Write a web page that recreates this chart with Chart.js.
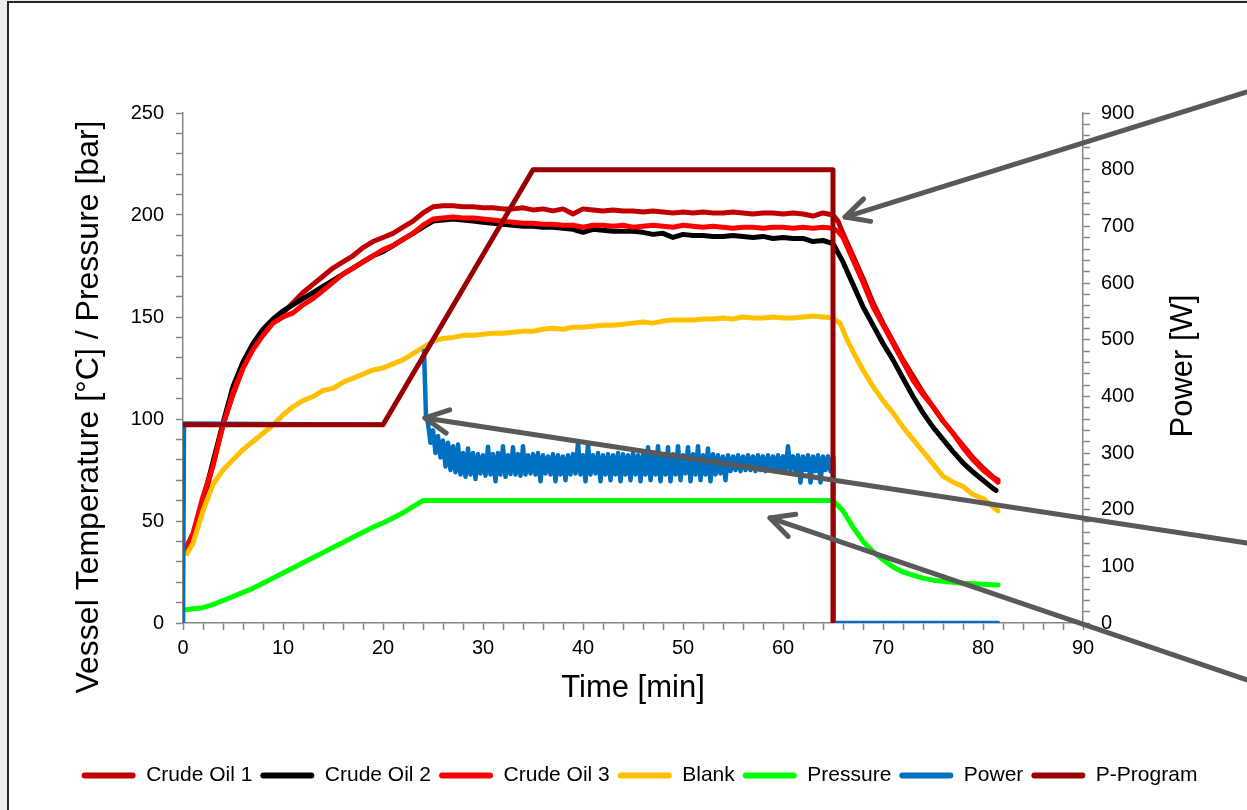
<!DOCTYPE html>
<html>
<head>
<meta charset="utf-8">
<script src="https://cdn.jsdelivr.net/npm/chart.js@4.4.0/dist/chart.umd.min.js"></script>
<style>
  html, body { margin: 0; padding: 0; overflow: hidden; background: #ececec; }
  #frame { position: absolute; left: 7px; top: 1px; width: 1300px; height: 900px; background: #fff;
           border-left: 2px solid #262626; border-top: 2px solid #262626; }
  #chart { position: absolute; left: 0; top: 0; }
</style>
</head>
<body>
<div id="frame"></div>
<canvas id="chart" width="1247" height="810"></canvas>
<script>
// [time min, value]
const crudeOil1 = [
    [0.3,36],[1,42],[2,58],[3,78],[4,97],[5,112],[6,125],[7,135],[8,142],[9,148],[10,152],[11,157],[12,162],
    [13,166],[14,170],[15,174],[16,177],[17,180],[18,184],[19,187],[20,189],[21,191],[22,194],[23,197],[24,201],
    [25,204],[26,204.5],[27,204.5],[28,204],[29,204],[30,203.5],[31,203.5],[32,203],[33,203],[34,203.5],[35,202.5],
    [36,203],[37,202],[38,203],[39,200.5],[40,203],[41,202.5],[42,202],[43,202.5],[44,202],[45,202],[46,201.5],
    [47,202],[48,201.5],[49,201],[50,201.5],[51,201],[52,201.5],[53,201],[54,201],[55,201.5],[56,201],[57,200.5],
    [58,201],[59,201],[60,200.5],[61,201],[62,200.5],[63,199.5],[64,201],[65,200],[65.5,197],[66,191],[67,180],
    [68,169],[69,157],[70,147],[71,138],[72,129],[73,121],[74,113],[75,106],[76,99],[77,93],[78,87],[79,81],
    [80,76],[81,71.5],[81.5,70]
];
const crudeOil2 = [
    [0.3,36],[1,43],[2,60],[3,79],[4,98],[5,116],[6,128],[7,137],[8,144],[9,149],[10,153],[11,156],[12,159],
    [13,162],[14,165],[15,168],[16,171],[17,174],[18,177],[19,180],[20,182],[21,185],[22,188],[23,191],[24,194],
    [25,197],[26,197.5],[27,198],[28,197.5],[29,197],[30,196.5],[31,196],[32,195.5],[33,195],[34,194.5],[35,194.5],
    [36,194],[37,194],[38,193.5],[39,193],[40,191.5],[41,193],[42,192.5],[43,192],[44,192],[45,192],[46,191.5],
    [47,190.5],[48,191],[49,189],[50,190.5],[51,190],[52,190],[53,189.5],[54,189.5],[55,190],[56,189.5],[57,189],
    [58,189.5],[59,188.5],[60,189],[61,188.5],[62,188.5],[63,187],[64,187.5],[65,186],[66,177],[67,166],[68,155],
    [69,146],[70,137],[71,129],[72,120],[73,111],[74,103],[75,96],[76,90],[77,84],[78,78.5],[79,74],[80,70],
    [81,66],[81.3,65]
];
const crudeOil3 = [
    [0.3,37],[1,44],[2,62],[3,77],[4,97],[5,113],[6,125],[7,134],[8,141],[9,147],[10,150],[11,152],[12,156],
    [13,159],[14,163],[15,167],[16,171],[17,174],[18,177],[19,180],[20,183],[21,185],[22,188],[23,191],[24,195],
    [25,198],[26,198.5],[27,199],[28,198.5],[29,198.5],[30,198],[31,197.5],[32,197],[33,196.5],[34,196],[35,196],
    [36,195.5],[37,195.5],[38,195],[39,195],[40,194],[41,195],[42,195],[43,194.5],[44,195],[45,194],[46,194.5],
    [47,195],[48,194.5],[49,194],[50,195],[51,194.5],[52,194],[53,194.5],[54,194],[55,193.5],[56,194],[57,194],
    [58,193.5],[59,194],[60,194],[61,193.5],[62,194],[63,193.5],[64,194],[65,193.5],[65.5,192],[66,189],[67,178],
    [68,167],[69,155],[70,146],[71,137],[72,128],[73,119],[74,112],[75,106],[76,99],[77,93],[78,86],[79,80],
    [80,75],[81,71],[81.5,69]
];
const blank = [
    [0.4,34],[1,39],[2,55],[3,68],[4,75],[5,80],[6,85],[7,89],[8,93],[9,97],[10,102],[11,106],[12,109],[13,111],
    [14,114],[15,115],[16,118],[17,120],[18,122],[19,124],[20,125],[21,127],[22,129],[23,132],[24,135],[25,138],
    [26,139.5],[27,140],[28,141],[29,141],[30,141.5],[31,142],[32,142],[33,142.5],[34,143],[35,143],[36,144],
    [37,144.5],[38,144],[39,145],[40,145],[41,145.5],[42,146],[43,146],[44,146.5],[45,147],[46,147.5],[47,147],
    [48,148],[49,148.5],[50,148.5],[51,148.5],[52,149],[53,149],[54,149.5],[55,149],[56,150],[57,149.5],[58,149.5],
    [59,150],[60,149.5],[61,149.5],[62,150],[63,150.5],[64,150],[65,149.5],[65.7,147],[66.4,139],[67,133],[68,124],
    [69,116],[70,109],[71,103],[72,96],[73,90],[74,84],[75,78],[76,72],[77,69],[78,67],[79,63],[80,61],[81,57],
    [81.5,55]
];
const pressure = [
    [0.3,6.5],[1,7],[2,7.5],[3,9],[4,11],[5,13],[6,15],[7,17],[8,19.5],[9,22],[10,24.5],[11,27],[12,29.5],[13,32],
    [14,34.5],[15,37],[16,39.5],[17,42],[18,44.5],[19,47],[20,49],[21,51.5],[22,54],[23,57],[24,60],[25,60],
    [65,60],[66,55],[67,47],[68,40],[69,35],[70,31],[71,27.5],[72,25],[73,23.5],[74,22],[75,21],[76,20.5],
    [77,20],[78,19.5],[80,19],[81.5,18.6]
];

// power [W], right axis
const powerStart = [[0,0],[0.1,352],[19.9,350]];
const powerGapAt = 22;
const powerPeak = [[24.1,480],[24.3,365]];
const rippleStart = 24.5;   // min
const rippleStep = 0.25;    // min between readings
const powerRipple = [
    352,318,340,300,330,292,322,276,318,270,312,266,315,262,300,258,
    308,262,300,254,298,264,296,260,311,262,298,250,300,262,312,258,
    296,263,310,262,298,260,312,262,296,264,298,262,300,250,296,264,
    294,262,298,250,296,262,294,252,296,262,298,264,318,262,296,250,
    316,262,296,264,300,250,296,262,298,252,296,262,300,250,298,262,
    296,252,300,262,296,250,298,262,310,252,296,262,312,250,296,262,
    310,250,298,262,312,252,296,264,310,250,298,262,312,252,296,262,
    308,250,298,262,296,264,294,252,296,268,294,270,296,268,294,270,
    296,270,294,268,296,270,294,268,296,270,294,268,296,270,294,268,
    312,270,294,268,296,248,294,270,296,248,294,268,296,248,294,270,
    294,268,292
];
const powerEnd = [[65.05,0],[81.5,0]];

const pProgram = [[0,350],[20,350],[35,800],[65,800],[65,0]];

const seriesNames = ['Crude Oil 1', 'Crude Oil 2', 'Crude Oil 3', 'Blank', 'Pressure', 'Power', 'P-Program'];
const seriesColors = ['#c00000', '#000000', '#ff0000', '#ffc000', '#00ff00', '#0070c0', '#990000'];

const leftTitle = 'Vessel Temperature [°C] / Pressure [bar]';
const rightTitle = 'Power [W]';
const bottomTitle = 'Time [min]';

// callout arrows: tip and tail in [time, left-axis value]
const arrows = [
    {tip: [66.2, 199], tail: [106.4, 260.3]},
    {tip: [24.2, 100.5], tail: [106.4, 39.2]},
    {tip: [58.7, 51.5], tail: [106.4, -27.9]}
];

const FONT = '"Liberation Sans", Arial, sans-serif';
const AXIS_GREY = '#868686';

function toPoints(pairs) {
    return pairs.map(p => ({x: p[0], y: p[1]}));
}

function buildPower() {
    let pts = toPoints(powerStart);
    pts.push({x: powerGapAt, y: null});
    pts = pts.concat(toPoints(powerPeak));
    powerRipple.forEach((v, i) => pts.push({x: rippleStart + i * rippleStep, y: v}));
    return pts.concat(toPoints(powerEnd));
}

function lineSet(i, data, axis, width) {
    return {
        label: seriesNames[i],
        data: data,
        yAxisID: axis,
        borderColor: seriesColors[i],
        backgroundColor: seriesColors[i],
        borderWidth: width,
        pointRadius: 0,
        tension: 0,
        fill: false,
        borderJoinStyle: 'round',
        borderCapStyle: 'round',
        order: 6 - i   // later series on top, like the original
    };
}

function drawRotated(ctx, text, x, y) {
    ctx.save();
    ctx.translate(x, y);
    ctx.rotate(-Math.PI / 2);
    ctx.fillText(text, 0, 0);
    ctx.restore();
}

const sideTitles = {
    id: 'sideTitles',
    afterDraw(chart) {
        const {ctx, chartArea} = chart;
        const mid = (chartArea.top + chartArea.bottom) / 2;
        ctx.save();
        ctx.fillStyle = '#000';
        ctx.textAlign = 'center';
        ctx.textBaseline = 'middle';
        ctx.font = '32px ' + FONT;
        drawRotated(ctx, leftTitle, chartArea.left - 94, mid + 39);
        ctx.font = '31px ' + FONT;
        drawRotated(ctx, rightTitle, chartArea.right + 100, mid - 2);
        ctx.restore();
    }
};

const calloutArrows = {
    id: 'calloutArrows',
    afterDraw(chart) {
        const xs = chart.scales.x, ys = chart.scales.y, ctx = chart.ctx;
        const head = 26, spread = 0.47;
        ctx.save();
        ctx.strokeStyle = '#595959';
        ctx.lineWidth = 5;
        ctx.lineCap = 'round';
        ctx.lineJoin = 'round';
        arrows.forEach(a => {
            const tx = xs.getPixelForValue(a.tip[0]), ty = ys.getPixelForValue(a.tip[1]);
            const sx = xs.getPixelForValue(a.tail[0]), sy = ys.getPixelForValue(a.tail[1]);
            const ang = Math.atan2(sy - ty, sx - tx);
            ctx.beginPath();
            ctx.moveTo(sx, sy);
            ctx.lineTo(tx, ty);
            ctx.stroke();
            ctx.beginPath();
            ctx.moveTo(tx + head * Math.cos(ang - spread), ty + head * Math.sin(ang - spread));
            ctx.lineTo(tx, ty);
            ctx.lineTo(tx + head * Math.cos(ang + spread), ty + head * Math.sin(ang + spread));
            ctx.stroke();
        });
        ctx.restore();
    }
};

function axisGrid() {
    return {drawOnChartArea: false, drawTicks: true, tickLength: 7, tickColor: AXIS_GREY, tickWidth: 1.5};
}

new Chart(document.getElementById('chart'), {
    type: 'line',
    data: {
        datasets: [
            lineSet(0, toPoints(crudeOil1), 'y', 5),
            lineSet(1, toPoints(crudeOil2), 'y', 5),
            lineSet(2, toPoints(crudeOil3), 'y', 5),
            lineSet(3, toPoints(blank), 'y', 5),
            lineSet(4, toPoints(pressure), 'y', 5),
            lineSet(5, buildPower(), 'y2', 4.5),
            lineSet(6, toPoints(pProgram), 'y2', 5)
        ]
    },
    options: {
        responsive: false,
        animation: false,
        devicePixelRatio: 1,
        layout: {
            padding: {top: 113, left: 32, right: 0, bottom: 14}
        },
        scales: {
            x: {
                type: 'linear',
                min: 0,
                max: 90,
                afterFit: s => { s.height = 134; },
                grid: axisGrid(),
                border: {color: AXIS_GREY, width: 1.5},
                ticks: {
                    stepSize: 2,
                    autoSkip: false,
                    maxRotation: 0,
                    padding: 6,
                    color: '#000',
                    font: {family: FONT, size: 20},
                    callback: v => (v % 10 === 0 ? v : '')
                },
                title: {
                    display: true,
                    text: bottomTitle,
                    color: '#000',
                    font: {family: FONT, size: 31},
                    padding: {top: 0, bottom: 50}
                }
            },
            y: {
                position: 'left',
                min: 0,
                max: 250,
                afterFit: s => { s.width = 151; },
                grid: axisGrid(),
                border: {color: AXIS_GREY, width: 1.5},
                ticks: {
                    stepSize: 10,
                    autoSkip: false,
                    padding: 12,
                    color: '#000',
                    font: {family: FONT, size: 20},
                    callback: v => (v % 50 === 0 ? v : '')
                }
            },
            y2: {
                position: 'right',
                min: 0,
                max: 900,
                afterFit: s => { s.width = 164; },
                grid: axisGrid(),
                border: {color: AXIS_GREY, width: 1.5},
                ticks: {
                    stepSize: 20,
                    autoSkip: false,
                    padding: 11,
                    color: '#000',
                    font: {family: FONT, size: 20},
                    callback: v => (v % 100 === 0 ? v : '')
                }
            }
        },
        plugins: {
            legend: {
                position: 'bottom',
                labels: {
                    boxWidth: 54,
                    boxHeight: 6,
                    useBorderRadius: true,
                    borderRadius: 3,
                    padding: 8,
                    color: '#000',
                    font: {family: FONT, size: 21},
                    sort: (a, b) => a.datasetIndex - b.datasetIndex,
                    generateLabels: chart =>
                        Chart.defaults.plugins.legend.labels.generateLabels(chart)
                            .map(item => Object.assign(item, {lineWidth: 0}))
                }
            },
            tooltip: {enabled: false}
        }
    },
    plugins: [sideTitles, calloutArrows]
});
</script>
</body>
</html>
